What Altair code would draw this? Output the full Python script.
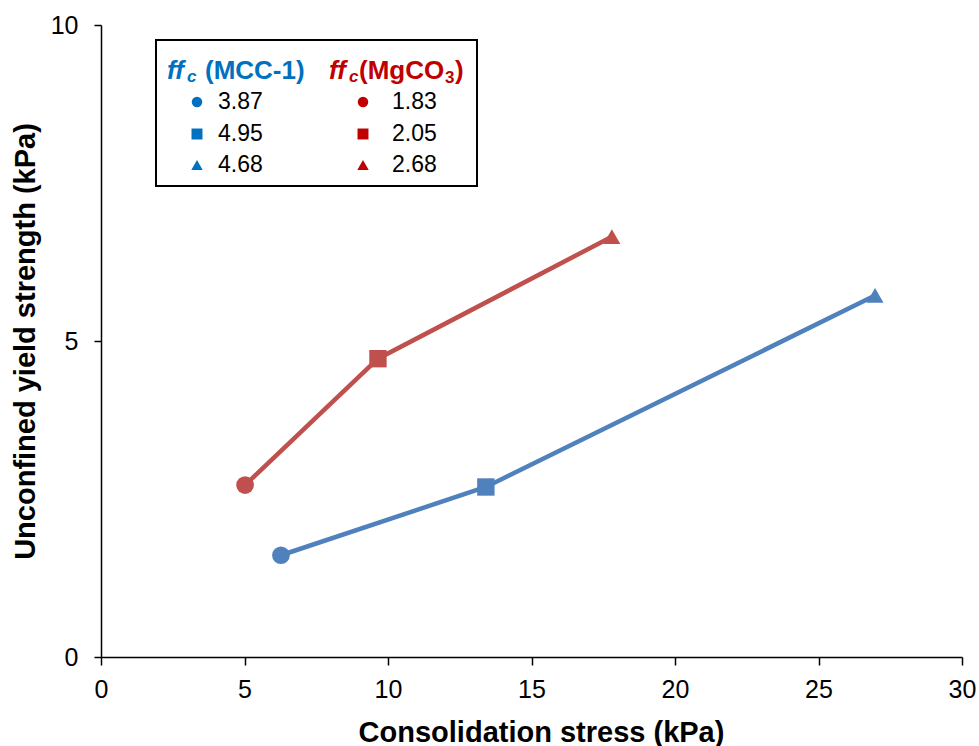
import altair as alt
import pandas as pd

# ---- data ----
series_names = ["MCC-1", "MgCO3"]
shapes = ["circle", "square", "triangle"]
mcc_x = [6.27, 13.41, 26.97]
mcc_y = [1.61, 2.69, 5.72]
mg_x = [5.02, 9.65, 17.80]
mg_y = [2.72, 4.72, 6.65]
mcc_ffc = ["3.87", "4.95", "4.68"]
mg_ffc = ["1.83", "2.05", "2.68"]
x_ticks = [0, 5, 10, 15, 20, 25, 30]
y_ticks = [0, 5, 10]

BLUE_LINE = "#4F81BD"
RED_LINE = "#C0504D"
BLUE_LEG = "#0070C0"
RED_LEG = "#C00000"
FONT = "Liberation Sans"

rows = []
for s, xs, ys in [(series_names[0], mcc_x, mcc_y), (series_names[1], mg_x, mg_y)]:
    for i, (xv, yv) in enumerate(zip(xs, ys)):
        rows.append({"series": s, "x": xv, "y": yv, "shape": shapes[i]})
df = pd.DataFrame(rows)

xscale = alt.Scale(domain=[0, 30], nice=False, zero=False)
yscale = alt.Scale(domain=[0, 10], nice=False, zero=False)
color = alt.Color("series:N", scale=alt.Scale(domain=series_names, range=[BLUE_LINE, RED_LINE]), legend=None)

xenc = alt.X("x:Q", scale=xscale, axis=alt.Axis(
    values=x_ticks, format="d", title="Consolidation stress (kPa)", tickSize=8, labelPadding=12,
    labelFontSize=25, titleFontSize=29, titleFontWeight="bold", labelFlush=False,
    titleX=440, titleY=75, titleBaseline="middle", titleAlign="center"))
yenc = alt.Y("y:Q", scale=yscale, axis=alt.Axis(
    values=y_ticks, format="d", title="Unconfined yield strength (kPa)", tickSize=7, labelPadding=16,
    labelFontSize=25, titleFontSize=29, titleFontWeight="bold", labelFlush=False,
    titleX=-76, titleY=316, titleBaseline="middle", titleAlign="center", titleAngle=-90))

lines = alt.Chart(df).mark_line(strokeWidth=4.5).encode(
    x=xenc, y=yenc, color=color, detail="series:N")

points = alt.Chart(df).mark_point(filled=True, opacity=1).encode(
    x=alt.X("x:Q", scale=xscale), y=alt.Y("y:Q", scale=yscale), color=color,
    shape=alt.Shape("shape:N", scale=alt.Scale(domain=shapes, range=["circle", "square", "triangle-up"]), legend=None),
    size=alt.Size("shape:O", scale=alt.Scale(domain=shapes, range=[314, 290, 500]), legend=None),
)

data_layer = alt.layer(lines, points)

# ---- custom legend box (pixel positions inside plot area) ----
box = alt.Chart(pd.DataFrame({"a": [0]})).mark_rect(
    fill="white", stroke="black", strokeWidth=2).encode(
    x=alt.value(55), x2=alt.value(376), y=alt.value(15), y2=alt.value(161))

leg_rows = []
row_y = [77, 109, 140]
for i in range(3):
    leg_rows.append({"px": 96, "tx": 117, "py": row_y[i], "label": mcc_ffc[i], "lshape": shapes[i], "lseries": series_names[0]})
    leg_rows.append({"px": 262, "tx": 291, "py": row_y[i], "label": mg_ffc[i], "lshape": shapes[i], "lseries": series_names[1]})
ldf = pd.DataFrame(leg_rows)

leg_color = alt.Color("lseries:N", scale=alt.Scale(domain=series_names, range=[BLUE_LEG, RED_LEG]), legend=None)
leg_markers = alt.Chart(ldf).mark_point(filled=True, opacity=1).encode(
    x=alt.X("px:Q", scale=None), y=alt.Y("py:Q", scale=None),
    color=leg_color,
    shape=alt.Shape("lshape:N", scale=alt.Scale(domain=shapes, range=["circle", "square", "triangle-up"]), legend=None),
    size=alt.Size("lshape:O", scale=alt.Scale(domain=shapes, range=[110, 130, 200]), legend=None),
)
leg_text = alt.Chart(ldf).mark_text(align="left", baseline="middle", fontSize=23, font=FONT, color="#000000").encode(
    x=alt.X("tx:Q", scale=None), y=alt.Y("py:Q", scale=None), text="label:N")

def txt(t, x, y, size, col, italic=False):
    return alt.Chart(pd.DataFrame({"t": [t]})).mark_text(
        align="left", baseline="middle", fontSize=size, font=FONT, fontWeight="bold",
        fontStyle="italic" if italic else "normal", color=col).encode(
        x=alt.value(x), y=alt.value(y), text="t:N")

headers = [
    txt("ff", 66, 46, 26, BLUE_LEG, True),
    txt("c", 86, 52, 17, BLUE_LEG, True),
    txt("(MCC-1)", 104, 46, 26, BLUE_LEG),
    txt("ff", 228, 46, 26, RED_LEG, True),
    txt("c", 248, 52, 17, RED_LEG, True),
    txt("(MgCO", 258, 46, 26, RED_LEG),
    txt("3", 344, 53, 17, RED_LEG),
    txt(")", 354, 46, 26, RED_LEG),
]

legend_layer = alt.layer(box, leg_markers, leg_text, *headers)

chart = alt.layer(data_layer, legend_layer).resolve_scale(
    color="independent", shape="independent", size="independent"
).properties(
    width=861, height=632,
    autosize=alt.AutoSizeParams(type="none"),
    padding={"left": 101, "top": 25, "right": 17, "bottom": 89},
).configure_view(stroke=None).configure_axis(
    grid=False, domainColor="black", domainWidth=1.5, tickColor="black", tickWidth=1.5,
    labelColor="black", titleColor="black", labelFont=FONT, titleFont=FONT,
)

chart.save("out.html", embed_options={"renderer": "svg", "actions": False})
